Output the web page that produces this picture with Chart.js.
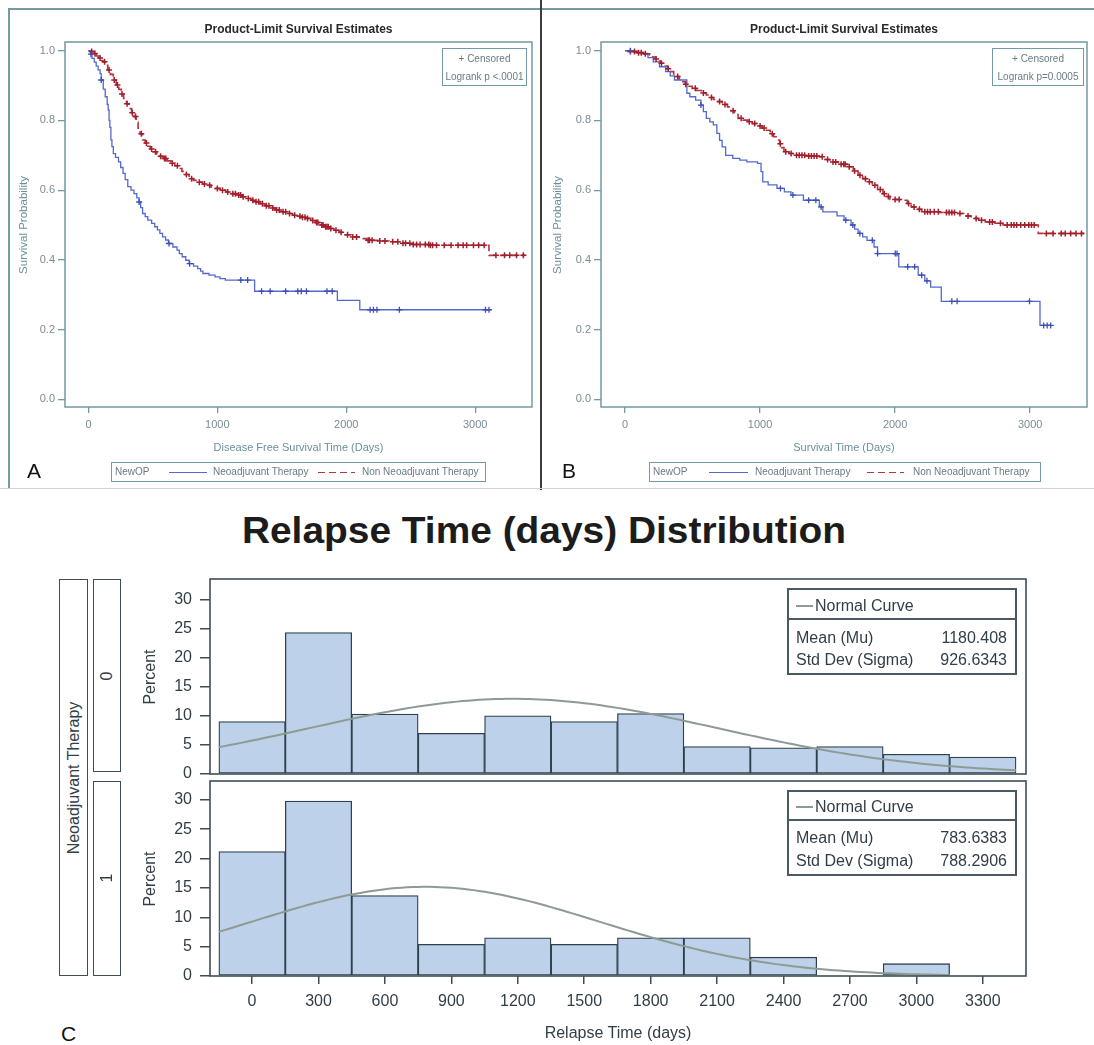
<!DOCTYPE html>
<html>
<head>
<meta charset="utf-8">
<title>Survival estimates and relapse time distribution</title>
<script src="https://cdn.jsdelivr.net/npm/chart.js@4.4.1/dist/chart.umd.min.js"></script>
<style>
  body { margin: 0; background: #fff; font-family: "Liberation Sans", Arial, sans-serif; }
  #page { position: relative; width: 1094px; height: 1045px; overflow: hidden; background: #fff; }
  #page canvas { position: absolute; }
  .t { position: absolute; white-space: nowrap; line-height: 1; }
  .b { position: absolute; box-sizing: border-box; }
</style>
</head>
<body>
<div id="page">
  <canvas id="kmA" width="532" height="480" style="left:8px;top:8px"></canvas>
  <canvas id="kmB" width="552" height="480" style="left:542px;top:8px"></canvas>
  <canvas id="hist0" width="910" height="231" style="left:130px;top:561px"></canvas>
  <canvas id="hist1" width="910" height="277" style="left:130px;top:763px"></canvas>
</div>
<script>
// ======================
// Data: Kaplan-Meier, panel A (disease free survival)
// ======================
const aNeoTime = [0, 15, 27, 45, 60, 75, 90, 99, 115, 130, 145, 153, 160, 166, 174, 182, 193, 210, 233, 250,
  268, 285, 305, 330, 353, 375, 393, 405, 420, 440, 460, 490, 514, 535, 554, 575, 598, 620, 655, 687,
  705, 727, 755, 781, 815, 848, 870, 888, 935, 982, 1020, 1062, 1289, 1931, 2105, 3121];
const aNeoSurv = [1.0, 0.99, 0.978, 0.967, 0.956, 0.945, 0.934, 0.916, 0.89, 0.868, 0.846, 0.83, 0.80, 0.78, 0.744, 0.725, 0.705, 0.694, 0.681, 0.665,
  0.648, 0.63, 0.61, 0.60, 0.59, 0.578, 0.566, 0.55, 0.533, 0.524, 0.514, 0.505, 0.495, 0.486, 0.476, 0.466, 0.457, 0.447, 0.437, 0.428,
  0.418, 0.409, 0.399, 0.389, 0.382, 0.375, 0.368, 0.361, 0.356, 0.351, 0.346, 0.342, 0.31, 0.284, 0.257, 0.257];
const aNeoCens = [19, 99, 393, 625, 785, 1182, 1235, 1343, 1410, 1530, 1624, 1651, 1691, 1850, 1891,
  2185, 2211, 2238, 2412, 3080, 3107];

const aNonTime = [0, 19, 40, 60, 80, 100, 113, 130, 150, 170, 193, 215, 235, 255, 273, 295, 315, 335, 353, 370,
  385, 400, 420, 440, 460, 480, 500, 530, 555, 581, 610, 640, 670, 701, 725, 750, 781, 815, 850, 885,
  915, 950, 985, 1022, 1065, 1110, 1155, 1190, 1225, 1260, 1289, 1330, 1370, 1410, 1449, 1490, 1540, 1583, 1620, 1655,
  1690, 1725, 1760, 1797, 1830, 1870, 1904, 1945, 1990, 2037, 2100, 2158, 2245, 2332, 2425, 2519, 2653, 3107, 3388];
const aNonSurv = [1.0, 0.998, 0.992, 0.985, 0.979, 0.972, 0.968, 0.958, 0.945, 0.932, 0.916, 0.902, 0.889, 0.876, 0.863, 0.848, 0.834, 0.822, 0.811, 0.795,
  0.778, 0.762, 0.744, 0.735, 0.726, 0.718, 0.71, 0.703, 0.697, 0.691, 0.684, 0.677, 0.67, 0.662, 0.654, 0.645, 0.633, 0.628, 0.623, 0.618,
  0.614, 0.609, 0.605, 0.6, 0.595, 0.59, 0.586, 0.581, 0.576, 0.571, 0.567, 0.561, 0.555, 0.549, 0.543, 0.538, 0.533, 0.528, 0.525, 0.522,
  0.519, 0.513, 0.507, 0.5, 0.495, 0.49, 0.485, 0.479, 0.472, 0.466, 0.461, 0.456, 0.454, 0.452, 0.448, 0.444, 0.442, 0.413, 0.413];
const aNonCens = [25, 50, 90, 125, 160, 200, 225, 260, 300, 340, 365, 410, 450, 490, 520, 560, 590, 600, 650, 690,
  760, 800, 860, 900, 940, 1000, 1040, 1080, 1120, 1140, 1165, 1180, 1200, 1240, 1275, 1300, 1320, 1350, 1380, 1400,
  1430, 1460, 1480, 1510, 1530, 1560, 1600, 1640, 1660, 1680, 1700, 1740, 1770, 1780, 1810, 1820, 1840, 1850, 1860, 1880,
  1920, 1960, 2010, 2050, 2080, 2170, 2180, 2200, 2260, 2300, 2360, 2400, 2440, 2460, 2493, 2520, 2546, 2573, 2613, 2640,
  2653, 2670, 2700, 2760, 2813, 2867, 2907, 2934, 2987, 3027, 3070, 3161, 3228, 3268, 3321, 3374];

// ======================
// Data: Kaplan-Meier, panel B (overall survival)
// ======================
const bNeoTime = [0, 60, 131, 170, 209, 255, 301, 335, 366, 458, 480, 523, 562, 580, 602, 628, 654, 680, 700, 719,
  745, 798, 850, 902, 981, 1007, 1020, 1060, 1125, 1180, 1229, 1321, 1439, 1465, 1570, 1622, 1674, 1700, 1726, 1760,
  1792, 1844, 1870, 2027, 2171, 2220, 2263, 2342, 3073, 3152];
const bNeoSurv = [1.0, 0.996, 0.992, 0.98, 0.968, 0.954, 0.94, 0.928, 0.916, 0.878, 0.868, 0.858, 0.844, 0.825, 0.806, 0.796, 0.787, 0.763, 0.743, 0.724,
  0.7, 0.691, 0.686, 0.681, 0.677, 0.653, 0.624, 0.615, 0.605, 0.595, 0.586, 0.571, 0.552, 0.538, 0.526, 0.514, 0.5, 0.488, 0.476, 0.466,
  0.456, 0.437, 0.418, 0.38, 0.356, 0.34, 0.322, 0.281, 0.212, 0.212];
const bNeoCens = [39, 562, 1151, 1243, 1360, 1413, 1452, 1635, 1687, 1739, 1831, 1870, 2001, 2014, 2093, 2145,
  2197, 2236, 2420, 2459, 2995, 3100, 3126, 3152];

const bNonTime = [0, 26, 90, 140, 183, 205, 225, 245, 262, 290, 315, 340, 360, 380, 400, 419, 445, 470, 497, 530,
  565, 602, 630, 655, 680, 720, 759, 785, 810, 837, 875, 910, 942, 980, 1015, 1046, 1075, 1100, 1125, 1145,
  1160, 1177, 1215, 1256, 1340, 1439, 1480, 1517, 1580, 1648, 1690, 1726, 1760, 1795, 1831, 1870, 1910, 1935, 1962, 2066,
  2090, 2119, 2160, 2197, 2330, 2459, 2510, 2564, 2620, 2668, 2740, 2799, 3060, 3400];
const bNonSurv = [1.0, 0.998, 0.994, 0.991, 0.988, 0.982, 0.976, 0.97, 0.964, 0.956, 0.948, 0.94, 0.933, 0.926, 0.918, 0.911, 0.904, 0.898, 0.892, 0.886,
  0.879, 0.873, 0.866, 0.86, 0.854, 0.846, 0.839, 0.828, 0.817, 0.806, 0.801, 0.796, 0.791, 0.784, 0.778, 0.772, 0.762, 0.753, 0.744, 0.733,
  0.722, 0.71, 0.705, 0.7, 0.698, 0.696, 0.688, 0.681, 0.674, 0.667, 0.655, 0.643, 0.633, 0.624, 0.614, 0.602, 0.59, 0.582, 0.573, 0.571,
  0.562, 0.552, 0.545, 0.538, 0.536, 0.533, 0.526, 0.519, 0.514, 0.509, 0.505, 0.5, 0.476, 0.476];
const bNonCens = [40, 70, 100, 120, 150, 230, 270, 320, 390, 450, 520, 580, 640, 700, 740, 800, 860, 920, 960, 1000,
  1030, 1090, 1150, 1190, 1230, 1270, 1290, 1310, 1330, 1360, 1380, 1400, 1420, 1460, 1500, 1540, 1560, 1600, 1620, 1630,
  1660, 1700, 1740, 1780, 1810, 1850, 1890, 1920, 1950, 2000, 2030, 2100, 2140, 2180, 2220, 2240, 2260, 2290, 2320, 2380,
  2400, 2420, 2440, 2480, 2540, 2600, 2640, 2700, 2720, 2780, 2830, 2860, 2880, 2900, 2930, 2960, 2990, 3010, 3030, 3120,
  3170, 3230, 3260, 3300, 3340, 3380];

// ======================
// Data: relapse time histograms
// ======================
const binMid = [0, 300, 600, 900, 1200, 1500, 1800, 2100, 2400, 2700, 3000, 3300];
const pctNeo0 = [9.0, 24.3, 10.3, 7.0, 10.0, 9.0, 10.4, 4.7, 4.5, 4.7, 3.4, 2.9];
const pctNeo1 = [21.2, 29.8, 13.7, 5.4, 6.5, 5.4, 6.5, 6.5, 3.2, 0, 2.1, null];
const fit0 = { mu: '1180.408', sigma: '926.6343' };
const fit1 = { mu: '783.6383', sigma: '788.2906' };
const binWidth = 300;
const kmXTicks = [0, 1000, 2000, 3000];
const kmYTicks = [0, 0.2, 0.4, 0.6, 0.8, 1.0];
const histYTicks = [0, 5, 10, 15, 20, 25, 30];

// ======================
// Colours
// ======================
const KM_AXIS = '#7399a5';
const KM_TEXT = '#7d8b90';
const KM_LABEL = '#6b9099';
const BLUE = '#5568cf';
const BLUE_MARK = '#3c4fb6';
const RED = '#b3343f';
const RED_MARK = '#a11e2b';
const H_AXIS = '#3e4e57';
const H_TEXT = '#323e45';
const BAR_FILL = '#bdd2ea';
const BAR_EDGE = '#2f414c';
const CURVE = '#8d9b93';

Chart.defaults.font.family = '"Liberation Sans", Arial, sans-serif';
Chart.defaults.animation = false;

// draws a closed frame round the plot area
const framePlugin = {
  id: 'frame',
  afterDraw(chart, args, opts) {
    const { ctx, chartArea: a } = chart;
    ctx.save();
    ctx.strokeStyle = opts.color;
    ctx.lineWidth = opts.width;
    ctx.strokeRect(a.left, a.top, a.right - a.left, a.bottom - a.top);
    ctx.restore();
  }
};

function steps(times, surv) {
  return times.map((t, i) => ({ x: t, y: surv[i] }));
}
// survival value of the step in force at time t
function survAt(times, surv, t) {
  let s = surv[0];
  for (let i = 0; i < times.length; i++) if (times[i] <= t) s = surv[i];
  return s;
}
function censorMarks(cens, times, surv) {
  return cens.map(t => ({ x: t, y: survAt(times, surv, t) }));
}
function fixedTicks(list) {
  return scale => { scale.ticks = list.map(v => ({ value: v })); };
}

// ======================
// Kaplan-Meier charts
// ======================
function kmChart(id, p) {
  return new Chart(document.getElementById(id), {
    type: 'line',
    data: {
      datasets: [
        { data: censorMarks(p.neoCens, p.neoTime, p.neoSurv), showLine: false, pointStyle: 'cross',
          pointRadius: 3, pointBorderColor: BLUE_MARK, pointBorderWidth: 1.3, order: 0 },
        { data: censorMarks(p.nonCens, p.nonTime, p.nonSurv), showLine: false, pointStyle: 'cross',
          pointRadius: 3, pointBorderColor: RED_MARK, pointBorderWidth: 1.5, order: 0 },
        { label: 'Neoadjuvant Therapy', data: steps(p.neoTime, p.neoSurv), stepped: true,
          borderColor: BLUE, borderWidth: 1.3, pointRadius: 0, fill: false, order: 1 },
        { label: 'Non Neoadjuvant Therapy', data: steps(p.nonTime, p.nonSurv), stepped: true,
          borderColor: RED, borderWidth: 1.6, borderDash: [7, 4], pointRadius: 0, fill: false, order: 1 }
      ]
    },
    options: {
      responsive: false,
      layout: { padding: { top: 34, right: p.padRight, left: 0, bottom: 0 } },
      plugins: { legend: { display: false }, tooltip: { enabled: false }, frame: { color: KM_AXIS, width: 1.5 } },
      scales: {
        x: {
          type: 'linear', min: p.xMin, max: p.xMax,
          afterBuildTicks: fixedTicks(kmXTicks),
          afterFit: s => { s.height = 81; },
          grid: { drawOnChartArea: false, tickLength: 6, color: KM_AXIS, lineWidth: 1.3 },
          border: { display: false },
          ticks: { color: KM_TEXT, font: { size: 11 }, padding: 5, autoSkip: false, maxRotation: 0,
            callback: v => String(v) }
        },
        y: {
          type: 'linear', min: -0.022, max: 1.025,
          afterBuildTicks: fixedTicks(kmYTicks),
          afterFit: s => { s.width = p.yWidth; },
          grid: { drawOnChartArea: false, tickLength: 7, color: KM_AXIS, lineWidth: 1.3 },
          border: { display: false },
          ticks: { color: KM_TEXT, font: { size: 11 }, padding: 3, autoSkip: false, callback: v => v.toFixed(1) }
        }
      }
    },
    plugins: [framePlugin]
  });
}

kmChart('kmA', {
  neoTime: aNeoTime, neoSurv: aNeoSurv, neoCens: aNeoCens,
  nonTime: aNonTime, nonSurv: aNonSurv, nonCens: aNonCens,
  xMin: -182, xMax: 3441, yWidth: 57, padRight: 8
});
kmChart('kmB', {
  neoTime: bNeoTime, neoSurv: bNeoSurv, neoCens: bNeoCens,
  nonTime: bNonTime, nonSurv: bNonSurv, nonCens: bNonCens,
  xMin: -178, xMax: 3421, yWidth: 59, padRight: 7
});

// ======================
// Histograms with fitted normal curve
// ======================
function normalCurve(fit, from, to) {
  const mu = Number(fit.mu), sigma = Number(fit.sigma);
  const k = 100 * binWidth / (sigma * Math.sqrt(2 * Math.PI));
  const pts = [];
  for (let x = from; x <= to; x += 25) {
    const z = (x - mu) / sigma;
    pts.push({ x: x, y: k * Math.exp(-0.5 * z * z) });
  }
  return pts;
}

// tick labels need ~18px above the top tick, so the padding matches that
function histChart(id, p) {
  const bars = binMid.map((m, i) => ({ x: m, y: p.pct[i] })).filter(d => d.y !== null);
  return new Chart(document.getElementById(id), {
    type: 'bar',
    data: {
      datasets: [
        { type: 'line', data: normalCurve(p.fit, -150, p.curveTo), borderColor: CURVE, borderWidth: 2,
          pointRadius: 0, tension: 0, fill: false, order: 0 },
        { type: 'bar', data: bars, backgroundColor: BAR_FILL, borderColor: BAR_EDGE, borderWidth: 1.3,
          borderSkipped: false, barPercentage: 1, categoryPercentage: 1, order: 1 }
      ]
    },
    options: {
      responsive: false,
      layout: { padding: { top: 18, right: 14, left: 0, bottom: p.showX ? 0 : 18 } },
      plugins: { legend: { display: false }, tooltip: { enabled: false }, frame: { color: H_AXIS, width: 1.6 } },
      scales: {
        x: {
          type: 'linear', min: -190, max: 3495, offset: false, display: p.showX,
          afterBuildTicks: fixedTicks(binMid),
          afterFit: s => { if (p.showX) s.height = 64; },
          grid: { offset: false, drawOnChartArea: false, tickLength: 8, color: H_AXIS, lineWidth: 1.5 },
          border: { display: false },
          ticks: { color: H_TEXT, font: { size: 16 }, padding: 8, autoSkip: false, maxRotation: 0,
            callback: v => String(v) }
        },
        y: {
          type: 'linear', min: 0, max: p.yMax,
          afterBuildTicks: fixedTicks(histYTicks),
          afterFit: s => { s.width = 80; },
          grid: { drawOnChartArea: false, tickLength: 10, color: H_AXIS, lineWidth: 1.5 },
          border: { display: false },
          ticks: { color: H_TEXT, font: { size: 16 }, padding: 8, autoSkip: false }
        }
      }
    },
    plugins: [framePlugin]
  });
}

histChart('hist0', { pct: pctNeo0, fit: fit0, curveTo: 3450, yMax: 33.5, showX: false });
histChart('hist1', { pct: pctNeo1, fit: fit1, curveTo: 3150, yMax: 33.2, showX: true });

// ======================
// Titles, labels, legends and frames
// ======================
const page = document.getElementById('page');

function put(text, x, y, css, anchor, rot) {
  const el = document.createElement('div');
  el.className = 't';
  el.textContent = text;
  Object.assign(el.style, css || {});
  el.style.left = x + 'px';
  el.style.top = y + 'px';
  const shift = anchor === 'l' ? '0' : anchor === 'r' ? '-100%' : '-50%';
  el.style.transform = 'translate(' + shift + ',-50%)' + (rot ? ' rotate(' + rot + 'deg)' : '');
  page.appendChild(el);
  return el;
}
function rect(x, y, w, h, css) {
  const el = document.createElement('div');
  el.className = 'b';
  Object.assign(el.style, { left: x + 'px', top: y + 'px', width: w + 'px', height: h + 'px' }, css);
  page.appendChild(el);
  return el;
}

// frame round the two survival panels
rect(8, 8, 1086, 1.5, { background: KM_AXIS });
rect(8, 8, 1.5, 480, { background: KM_AXIS });
rect(540, 0, 2, 490, { background: '#3b3b3b' });
rect(0, 488, 1094, 1, { background: '#d3d3d3' });

const kmSmall = { fontSize: '10px', color: '#687c83' };
function kmPanel(q) {
  put('Product-Limit Survival Estimates', q.cx, 29, { fontSize: '12px', fontWeight: 'bold', color: '#2a2a2a' });
  put('Survival Probability', q.ylx, 225, { fontSize: '11.5px', color: KM_LABEL }, 'c', -90);
  put(q.xTitle, q.cx, 447, { fontSize: '11px', color: KM_LABEL });
  // inset with censor key and log-rank test
  rect(q.inX, 48, q.inW, 38, { border: '1.5px solid ' + KM_AXIS });
  put('+ Censored', q.inX + q.inW / 2, 59, kmSmall);
  put(q.logrank, q.inX + q.inW / 2, 77, kmSmall);
  // group legend
  rect(q.lgX, 462, q.lgW, 20, { border: '1.5px solid ' + KM_AXIS });
  put('NewOP', q.newop, 472, kmSmall, 'l');
  rect(q.blue[0], 471.5, q.blue[1] - q.blue[0], 1.3, { background: BLUE });
  put('Neoadjuvant Therapy', q.neoTxt, 472, kmSmall, 'l');
  rect(q.red[0], 471.5, q.red[1] - q.red[0], 1.4,
    { background: 'repeating-linear-gradient(90deg,' + RED + ' 0 7px, transparent 7px 11px)' });
  put('Non Neoadjuvant Therapy', q.nonTxt, 472, kmSmall, 'l');
  put(q.letter, q.letterX, 470, { fontSize: '21px', color: '#111' }, 'l');
}
kmPanel({ cx: 298.5, ylx: 24, xTitle: 'Disease Free Survival Time (Days)', inX: 442, inW: 85,
  logrank: 'Logrank p <.0001', lgX: 111, lgW: 375, newop: 115, blue: [169, 207], neoTxt: 213,
  red: [318, 355], nonTxt: 362, letter: 'A', letterX: 27 });
kmPanel({ cx: 844, ylx: 558, xTitle: 'Survival Time (Days)', inX: 992, inW: 92,
  logrank: 'Logrank p=0.0005', lgX: 649, lgW: 392, newop: 653, blue: [709, 748], neoTxt: 755,
  red: [867, 904], nonTxt: 913, letter: 'B', letterX: 562 });

// histogram section
const title = put('Relapse Time (days) Distribution', 544, 531, { fontSize: '36px', fontWeight: 'bold', color: '#1c1c1c' });
title.style.transform = 'translate(-50%,-50%) scaleX(1.08)';

const hLine = '1.5px solid ' + H_AXIS;
const hText = { fontSize: '16px', color: H_TEXT };
rect(59, 579, 28.5, 397, { border: hLine });
rect(93, 579, 27.5, 193, { border: hLine });
rect(93, 781, 27.5, 195, { border: hLine });
put('Neoadjuvant Therapy', 73.5, 778, hText, 'c', -90);
put('0', 106.5, 676, hText, 'c', -90);
put('1', 106.5, 878, hText, 'c', -90);
put('Percent', 150, 677, hText, 'c', -90);
put('Percent', 150, 879, hText, 'c', -90);

function fitInset(y, fit, rows) {
  rect(787, y, 230, rows.h, { border: '2px solid #4a5a63' });
  rect(787, y + rows.div, 230, 2, { background: '#4a5a63' });
  rect(796, y + rows.curve - 1, 17, 2, { background: CURVE });
  put('Normal Curve', 815, y + rows.curve, hText, 'l');
  put('Mean (Mu)', 796, y + rows.mean, hText, 'l');
  put(fit.mu, 1007, y + rows.mean, hText, 'r');
  put('Std Dev (Sigma)', 796, y + rows.sd, hText, 'l');
  put(fit.sigma, 1007, y + rows.sd, hText, 'r');
}
fitInset(588, fit0, { h: 87, div: 30, curve: 18, mean: 50, sd: 72 });
fitInset(790, fit1, { h: 86, div: 29, curve: 17, mean: 48, sd: 71 });

put('Relapse Time (days)', 618, 1033, hText);
put('C', 61, 1033, { fontSize: '21px', color: '#111' }, 'l');
</script>
</body>
</html>
